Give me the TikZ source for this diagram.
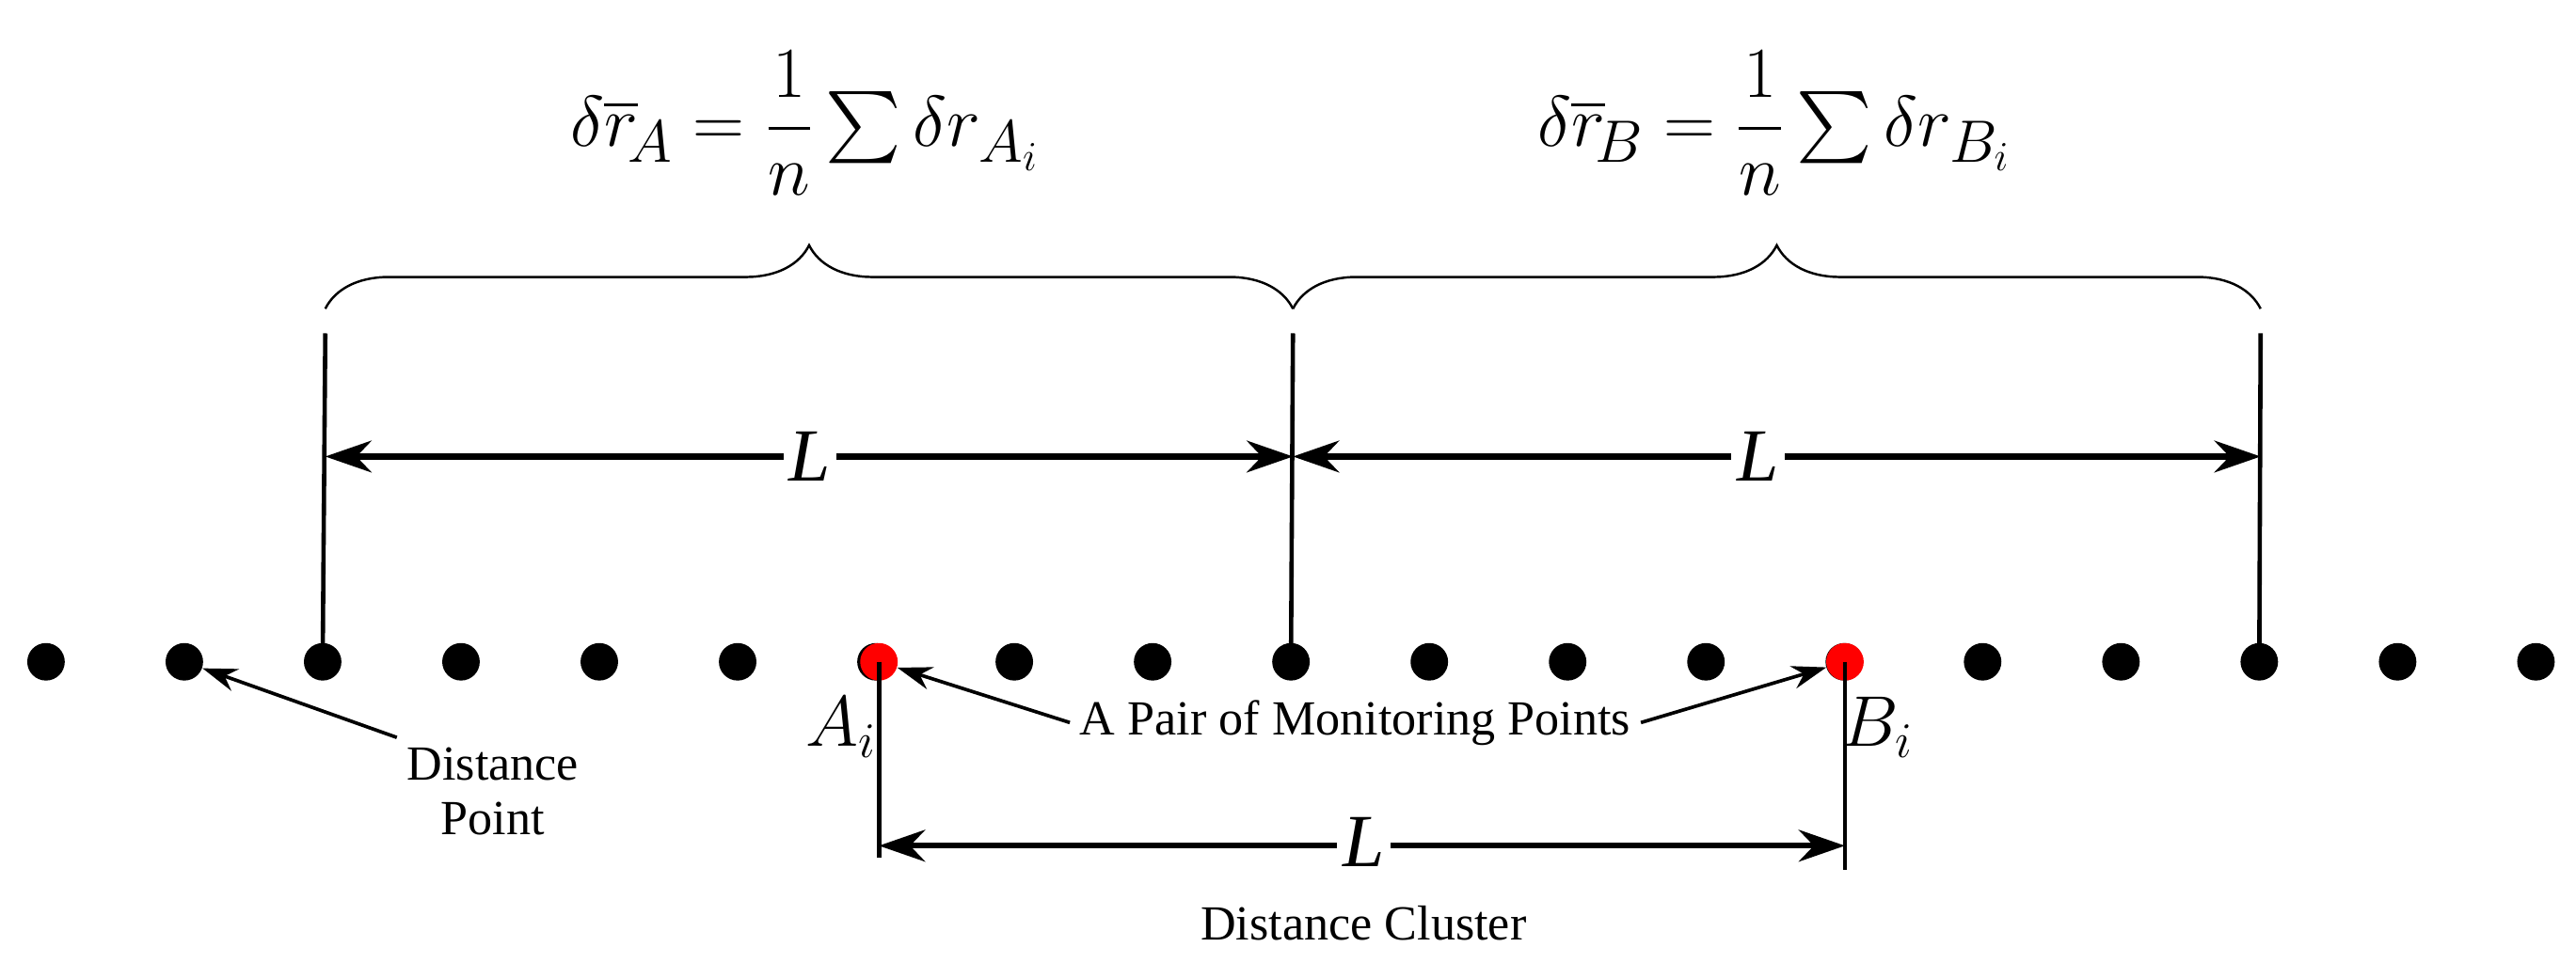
\documentclass[tikz,border=0pt]{standalone}
\usepackage{amsmath}
\usepackage{fontspec}
\setmainfont{Liberation Serif}
\usetikzlibrary{decorations.pathreplacing,arrows.meta}
\tikzset{
  dot/.style={circle,fill=black,inner sep=0pt,minimum size=13},
  mdot/.style={dot,fill=red},
  dim/.style={line width=2pt,{Stealth[length=16pt,width=11pt]}-{Stealth[length=16pt,width=11pt]}},
  pointer/.style={line width=1.2pt,-{Stealth[length=12pt,width=8pt]}},
  bar/.style={line width=1.5pt},
  lab/.style={font=\fontsize{17}{19}\selectfont,align=center},
  biglab/.style={font=\fontsize{26}{28}\selectfont\itshape,fill=white,inner sep=2pt}
}
\begin{document}
\begin{tikzpicture}[x=0.02cm,y=-0.02cm]
  \useasboundingbox (0,0) rectangle (1568,586);
  %\draw[help lines] (0,0) grid (1568,586);

  % distance points
  \foreach \i in {0,...,18} {
    \node[dot] (p\i) at (28+84.2*\i,403) {};
  }
  \node[mdot] (p6) at (535,403) {};
  \node[mdot] (p13) at (1123,403) {};

  % upper bars
  \coordinate (t1) at (198,203);
  \coordinate (t2) at (787,203);
  \coordinate (t3) at (1376,203);
  \draw[bar] (p2.center) -- (t1);
  \draw[bar] (p9.center) -- (t2);
  \draw[bar] (p16.center) -- (t3);

  \coordinate (d1) at (198,278);
  \coordinate (d2) at (787,278);
  \coordinate (d3) at (1376,278);
  \draw[dim] (d1) -- (d2);
  \draw[dim] (d2) -- (d3);
  \node[biglab] (lA) at (493,278) {L};
  \node[biglab] (lB) at (1070,278) {L};

  % braces
  \coordinate (b1) at (198,188);
  \coordinate (b2) at (787,188);
  \coordinate (b3) at (1376,188);
  \draw[thick,decorate,decoration={brace,amplitude=22pt}] (b1) -- (b2);
  \draw[thick,decorate,decoration={brace,amplitude=22pt}] (b2) -- (b3);

  \node[font=\fontsize{28}{30}\selectfont] (fA) at (490,75)
    {$\delta\overline{r}_{\!A}=\dfrac{1}{n}\sum\delta r_{A_i}$};
  \node[font=\fontsize{28}{30}\selectfont] (fB) at (1080,75)
    {$\delta\overline{r}_{\!B}=\dfrac{1}{n}\sum\delta r_{B_i}$};

  % monitoring pair
  \coordinate (a1) at (535,522);
  \coordinate (b4) at (1123,530);
  \draw[bar] (p6.center) -- (a1);
  \draw[bar] (p13.center) -- (b4);
  \coordinate (e1) at (535,515);
  \coordinate (e2) at (1123,515);
  \draw[dim] (e1) -- (e2);
  \node[biglab] (lC) at (830,513) {L};

  \node[font=\fontsize{24}{26}\selectfont] (ai) at (512,443) {$A_i$};
  \node[font=\fontsize{24}{26}\selectfont] (bi) at (1143,443) {$B_i$};

  \node[lab] (pair) at (825,440) {A Pair of Monitoring Points};
  \draw[pointer] (pair.west) -- (p6);
  \draw[pointer] (pair.east) -- (p13);

  \node[lab] (cluster) at (830,562) {Distance Cluster};

  \node[lab] (dp) at (300,482) {Distance\\Point};
  \draw[pointer] (dp.north west) -- (p1);
\end{tikzpicture}
\end{document}
